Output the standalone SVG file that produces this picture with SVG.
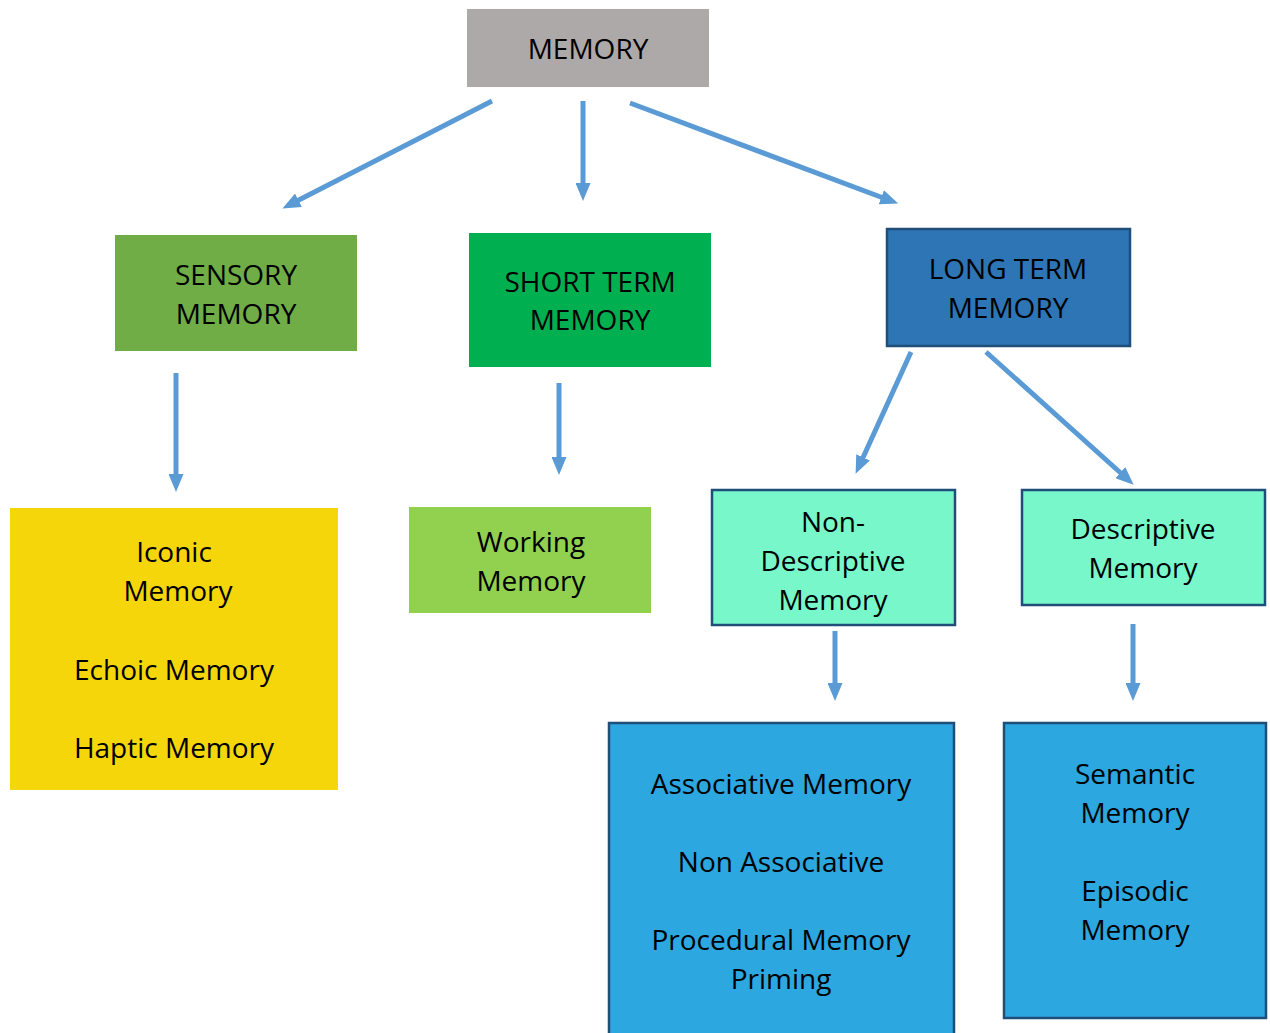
<svg xmlns="http://www.w3.org/2000/svg" width="1270" height="1033" viewBox="0 0 1270 1033">
<defs>
<style>
text{font-family:"Open Sans","Noto Sans",sans-serif;font-size:28px;fill:#000;text-anchor:middle;dominant-baseline:central}
.edge{stroke:#5B9BD5;stroke-width:5;fill:none;marker-end:url(#ah)}
.bd{stroke:#1F4E79;stroke-width:2.5}
</style>
<marker id="ah" markerUnits="userSpaceOnUse" markerWidth="18" markerHeight="15" viewBox="0 0 18 15" refX="5" refY="7.5" orient="auto">
<path d="M0,0 L18,7.5 L0,15 z" fill="#5B9BD5"/>
</marker>
</defs>
<rect width="1270" height="1033" fill="#fff"/>
<g id="connectors">
<line class="edge" x1="492" y1="101" x2="294" y2="202.5"/>
<line class="edge" x1="583" y1="101" x2="583" y2="188"/>
<line class="edge" x1="630" y1="103" x2="886" y2="199"/>
<line class="edge" x1="176" y1="373" x2="176" y2="479"/>
<line class="edge" x1="559" y1="383" x2="559" y2="462"/>
<line class="edge" x1="911" y1="352" x2="861" y2="462"/>
<line class="edge" x1="986" y1="352" x2="1124" y2="476"/>
<line class="edge" x1="835" y1="631" x2="835" y2="688"/>
<line class="edge" x1="1133" y1="624" x2="1133" y2="688"/>
</g>
<g id="memory">
<rect x="467" y="9" width="242" height="78" fill="#ADA9A9"/>
<text x="588" y="48">MEMORY</text>
</g>
<g id="sensory">
<rect x="115" y="235" width="242" height="116" fill="#70AD47"/>
<text x="236" y="274">SENSORY</text>
<text x="236" y="313">MEMORY</text>
</g>
<g id="shortterm">
<rect x="469" y="233" width="242" height="134" fill="#00B050"/>
<text x="590" y="281">SHORT TERM</text>
<text x="590" y="319">MEMORY</text>
</g>
<g id="longterm">
<rect class="bd" x="887" y="229" width="243" height="117" fill="#2E75B6"/>
<text x="1008" y="268">LONG TERM</text>
<text x="1008" y="307">MEMORY</text>
</g>
<g id="iconic">
<rect x="10" y="508" width="328" height="282" fill="#F5D60A"/>
<text x="174" y="551">Iconic</text>
<text x="178" y="590">Memory</text>
<text x="174" y="669">Echoic Memory</text>
<text x="174" y="747">Haptic Memory</text>
</g>
<g id="working">
<rect x="409" y="507" width="242" height="106" fill="#92D050"/>
<text x="531" y="541">Working</text>
<text x="531" y="580">Memory</text>
</g>
<g id="nondescriptive">
<rect class="bd" x="712" y="490" width="243" height="135" fill="#78F7CB"/>
<text x="833" y="521">Non-</text>
<text x="833" y="560">Descriptive</text>
<text x="833" y="599">Memory</text>
</g>
<g id="descriptive">
<rect class="bd" x="1022" y="490" width="243" height="115" fill="#78F7CB"/>
<text x="1143" y="528">Descriptive</text>
<text x="1143" y="567">Memory</text>
</g>
<g id="associative">
<rect class="bd" x="609" y="723" width="345" height="330" fill="#2CA7E0"/>
<text x="781" y="783">Associative Memory</text>
<text x="781" y="861">Non Associative</text>
<text x="781" y="939">Procedural Memory</text>
<text x="781" y="978">Priming</text>
</g>
<g id="semantic">
<rect class="bd" x="1004" y="723" width="262" height="295" fill="#2CA7E0"/>
<text x="1135" y="773">Semantic</text>
<text x="1135" y="812">Memory</text>
<text x="1135" y="890">Episodic</text>
<text x="1135" y="929">Memory</text>
</g>
</svg>
